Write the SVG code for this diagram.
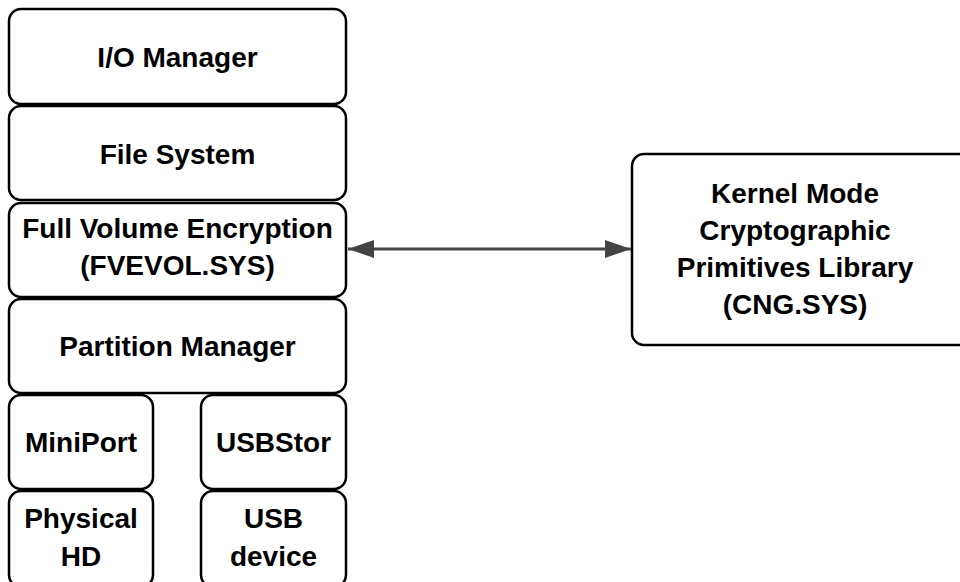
<svg xmlns="http://www.w3.org/2000/svg" width="960" height="582" viewBox="0 0 960 582">
<defs>
<style>
.box{fill:#fff;stroke:#000;stroke-width:2.5}
.t{font-family:"Liberation Sans",Arial,sans-serif;font-weight:bold;font-size:28px;fill:#000;text-anchor:middle}
.conn{stroke:#444;stroke-width:3;fill:none}
</style>
<marker id="ah" viewBox="0 0 10 10" refX="10" refY="5" markerWidth="8.7" markerHeight="6" markerUnits="strokeWidth" orient="auto-start-reverse" preserveAspectRatio="none">
<path d="M0,0 L10,5 L0,10 Z" fill="#444"/>
</marker>
</defs>
<rect width="960" height="582" fill="#fff"/>
<g id="io-manager"><rect class="box" x="9" y="9" width="337" height="95" rx="12"/><text class="t" x="177.5" y="67">I/O Manager</text></g>
<g id="file-system"><rect class="box" x="9" y="106" width="337" height="94" rx="12"/><text class="t" x="177.5" y="164">File System</text></g>
<g id="fve"><rect class="box" x="9" y="203" width="337" height="94" rx="12"/><text class="t" x="177.5" y="238">Full Volume Encryption</text><text class="t" x="177.5" y="275">(FVEVOL.SYS)</text></g>
<g id="partition-manager"><rect class="box" x="9" y="299" width="337" height="94" rx="12"/><text class="t" x="177.5" y="356">Partition Manager</text></g>
<g id="miniport"><rect class="box" x="9" y="395" width="144" height="94" rx="12"/><text class="t" x="81" y="452">MiniPort</text></g>
<g id="usbstor"><rect class="box" x="201" y="395" width="145" height="94" rx="12"/><text class="t" x="273.5" y="452">USBStor</text></g>
<g id="physical-hd"><rect class="box" x="9" y="491" width="144" height="96" rx="12"/><text class="t" x="81" y="528">Physical</text><text class="t" x="81" y="566">HD</text></g>
<g id="usb-device"><rect class="box" x="201" y="491" width="145" height="96" rx="12"/><text class="t" x="273.5" y="528">USB</text><text class="t" x="273.5" y="566">device</text></g>
<g id="cng"><rect class="box" x="632" y="154" width="340" height="191" rx="12"/><text class="t" x="795" y="203">Kernel Mode</text><text class="t" x="795" y="240">Cryptographic</text><text class="t" x="795" y="277">Primitives Library</text><text class="t" x="795" y="314">(CNG.SYS)</text></g>
<g id="connectors"><line class="conn" x1="348" y1="249" x2="631" y2="249" marker-start="url(#ah)" marker-end="url(#ah)"/></g>
</svg>
